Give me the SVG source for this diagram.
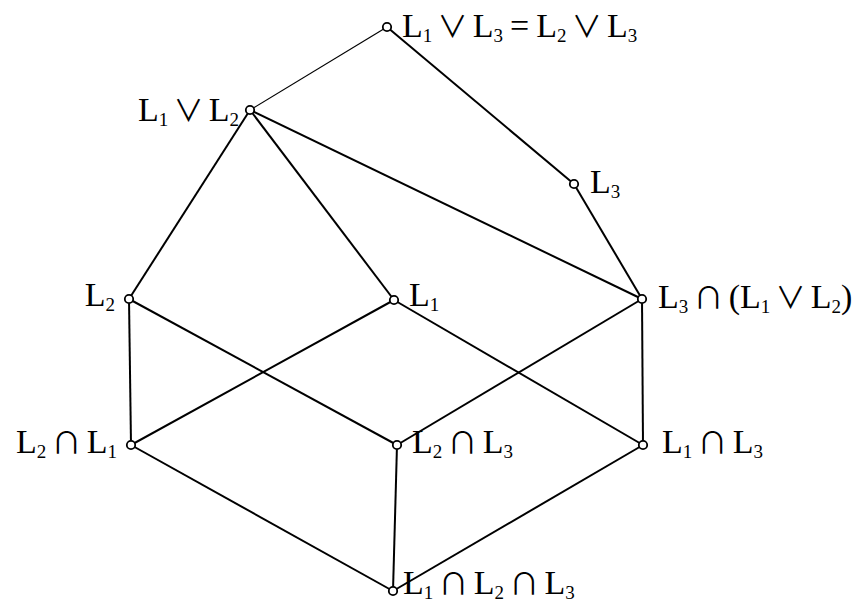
<svg xmlns="http://www.w3.org/2000/svg" width="854" height="603" viewBox="0 0 854 603">
<style>
text{font-family:"Liberation Serif","Times New Roman",serif;font-size:34px;fill:#000;word-spacing:-1.5px}
.s{font-size:19px}
.o{font-family:"Noto Sans CJK JP","DejaVu Sans",sans-serif;font-size:30px}
.e{stroke:#000;stroke-width:2;fill:none}
.t{stroke-width:1.2}
circle{fill:#fff;stroke:#000;stroke-width:1.8}
</style>
<rect width="854" height="603" fill="#fff"/>
<g id="connectors">
<line class="e t" x1="387" y1="27" x2="250" y2="110"/>
<line class="e" x1="387" y1="27" x2="574" y2="184"/>
<line class="e" x1="250" y1="110" x2="129" y2="299"/>
<line class="e" x1="250" y1="110" x2="394" y2="300"/>
<line class="e" x1="250" y1="110" x2="642" y2="299"/>
<line class="e" x1="574" y1="184" x2="642" y2="299"/>
<line class="e" x1="129" y1="299" x2="131" y2="445"/>
<line class="e" x1="129" y1="299" x2="397" y2="445"/>
<line class="e" x1="394" y1="300" x2="131" y2="445"/>
<line class="e" x1="394" y1="300" x2="643" y2="445"/>
<line class="e" x1="642" y1="299" x2="397" y2="445"/>
<line class="e" x1="642" y1="299" x2="643" y2="445"/>
<line class="e" x1="131" y1="445" x2="393" y2="591"/>
<line class="e" x1="397" y1="445" x2="393" y2="591"/>
<line class="e" x1="643" y1="445" x2="393" y2="591"/>
</g>
<g id="top"><circle cx="387" cy="27" r="4.2"/><text x="402" y="37">L<tspan class="s" dy="5">1</tspan><tspan class="o" dy="-5"> ∨ </tspan>L<tspan class="s" dy="5">3</tspan><tspan dy="-5"> = L</tspan><tspan class="s" dy="5">2</tspan><tspan class="o" dy="-5"> ∨ </tspan>L<tspan class="s" dy="5">3</tspan></text></g>
<g id="l1vl2"><circle cx="250" cy="110" r="4.2"/><text x="239" y="121" text-anchor="end">L<tspan class="s" dy="5">1</tspan><tspan class="o" dy="-5"> ∨ </tspan>L<tspan class="s" dy="5">2</tspan></text></g>
<g id="l3"><circle cx="574" cy="184" r="4.2"/><text x="590" y="193">L<tspan class="s" dy="5">3</tspan></text></g>
<g id="l2"><circle cx="129" cy="299" r="4.2"/><text x="115" y="306" text-anchor="end">L<tspan class="s" dy="5">2</tspan></text></g>
<g id="l1"><circle cx="394" cy="300" r="4.2"/><text x="409" y="306">L<tspan class="s" dy="5">1</tspan></text></g>
<g id="l3cap"><circle cx="642" cy="299" r="4.2"/><text x="658" y="308">L<tspan class="s" dy="5">3</tspan><tspan class="o" dy="-5"> ∩ </tspan>(L<tspan class="s" dy="5">1</tspan><tspan class="o" dy="-5"> ∨ </tspan>L<tspan class="s" dy="5">2</tspan><tspan dy="-5">)</tspan></text></g>
<g id="l2l1"><circle cx="131" cy="445" r="4.2"/><text x="117" y="453" text-anchor="end">L<tspan class="s" dy="5">2</tspan><tspan class="o" dy="-5"> ∩ </tspan>L<tspan class="s" dy="5">1</tspan></text></g>
<g id="l2l3"><circle cx="397" cy="445" r="4.2"/><text x="412" y="453">L<tspan class="s" dy="5">2</tspan><tspan class="o" dy="-5"> ∩ </tspan>L<tspan class="s" dy="5">3</tspan></text></g>
<g id="l1l3"><circle cx="643" cy="445" r="4.2"/><text x="662" y="453">L<tspan class="s" dy="5">1</tspan><tspan class="o" dy="-5"> ∩ </tspan>L<tspan class="s" dy="5">3</tspan></text></g>
<g id="bottom"><circle cx="393" cy="591" r="4.2"/><text x="403" y="594">L<tspan class="s" dy="5">1</tspan><tspan class="o" dy="-5"> ∩ </tspan>L<tspan class="s" dy="5">2</tspan><tspan class="o" dy="-5"> ∩ </tspan>L<tspan class="s" dy="5">3</tspan></text></g>
</svg>
